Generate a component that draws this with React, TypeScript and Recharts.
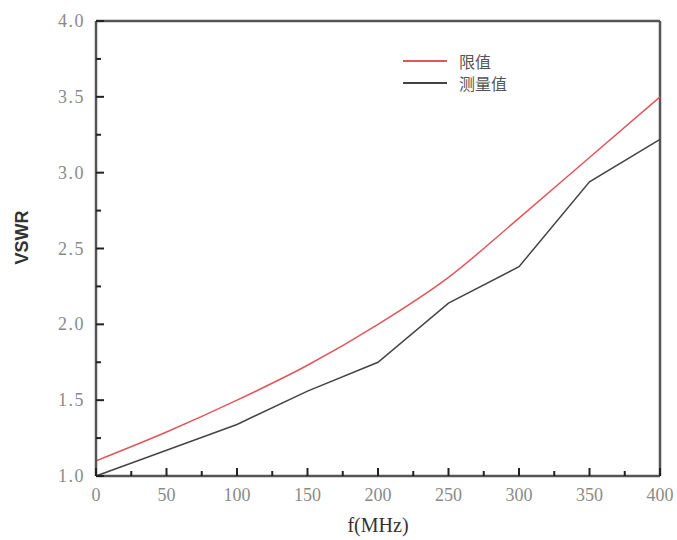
import React from "react";
import { LineChart, Line, XAxis, YAxis, ReferenceLine } from "recharts";

const freqs = [0, 50, 100, 150, 200, 250, 300, 350, 400];
const limitValues = [1.1, 1.29, 1.5, 1.73, 2.0, 2.31, 2.7, 3.1, 3.5];
const measuredValues = [1.0, 1.17, 1.34, 1.56, 1.75, 2.14, 2.38, 2.94, 3.22];
const xTicks = [0, 25, 50, 75, 100, 125, 150, 175, 200, 225, 250, 275, 300, 325, 350, 375, 400];
const xMajor = [0, 50, 100, 150, 200, 250, 300, 350, 400];
const yTicks = [1.0, 1.25, 1.5, 1.75, 2.0, 2.25, 2.5, 2.75, 3.0, 3.25, 3.5, 3.75, 4.0];
const yMajor = [1.0, 1.5, 2.0, 2.5, 3.0, 3.5, 4.0];
const seriesNames = ["限值", "测量值"];
const seriesColors = ["#e0565a", "#444444"];

const data = freqs.map((f, i) => ({ f, limit: limitValues[i], measured: measuredValues[i] }));

const AXIS = "#555555";
const TICKFONT = "'Liberation Serif', 'DejaVu Serif', serif";

const XTick = (props: any) => {
  const { x, y, payload } = props;
  const v = payload.value;
  const major = xMajor.includes(v);
  return (
    <g>
      <line x1={x} x2={x} y1={y} y2={y - (major ? 8 : 5)} stroke="#222" strokeWidth={2} />
      {major && (
        <text x={x} y={y + 25} textAnchor="middle" fontSize={18} fill="#8a8a8a" fontFamily={TICKFONT}>
          {v}
        </text>
      )}
    </g>
  );
};

const YTick = (props: any) => {
  const { x, y, payload } = props;
  const v = payload.value;
  const major = yMajor.some((m) => Math.abs(m - v) < 1e-6);
  return (
    <g>
      <line x1={x} x2={x + (major ? 8 : 5)} y1={y} y2={y} stroke="#222" strokeWidth={2} />
      {major && (
        <text x={x - 11} y={y + 6} textAnchor="end" fontSize={18} fill="#8a8a8a" fontFamily={TICKFONT} letterSpacing={1.5}>
          {v.toFixed(1)}
        </text>
      )}
    </g>
  );
};

const YLabel = (props: any) => {
  const { viewBox } = props;
  const cx = 22;
  const cy = viewBox ? viewBox.y + viewBox.height / 2 - 11 : 237;
  return (
    <text x={cx} y={cy} transform={`rotate(-90, ${cx}, ${cy})`} textAnchor="middle" dominantBaseline="central" fontSize={18} fontWeight="bold" fill="#333" fontFamily="'Liberation Sans', Arial, sans-serif">
      VSWR
    </text>
  );
};

const LegendBox = () => (
  <div style={{ position: "absolute", left: 403, top: 50, fontFamily: "'Noto Sans CJK SC', sans-serif", fontSize: 16, color: "#555" }}>
    {seriesNames.map((n, i) => (
      <div key={n} style={{ display: "flex", alignItems: "center", height: 22, overflow: "hidden" }}>
        <svg width={46} height={10} style={{ marginRight: 10 }}>
          <line x1={0} x2={44} y1={5} y2={5} stroke={seriesColors[i]} strokeWidth={2} />
        </svg>
        <span style={{ lineHeight: "20px", display: "inline-block", height: 20 }}>{n}</span>
      </div>
    ))}
  </div>
);

export default function App() {
  return (
    <div style={{ position: "absolute", left: 0, top: 0, width: 677, height: 540, background: "#fff" }}>
      <LineChart width={677} height={540} data={data} margin={{ top: 21, right: 17, left: 0, bottom: 0 }}>
        <XAxis
          dataKey="f"
          type="number"
          domain={[0, 400]}
          ticks={xTicks}
          interval={0}
          tickSize={0}
          tickMargin={0}
          tick={<XTick />}
          axisLine={{ stroke: AXIS, strokeWidth: 2.5 }}
          tickLine={false}
          height={64}
          label={{ value: "f(MHz)", position: "insideBottom", offset: 8, fontSize: 20, fill: "#333", fontFamily: TICKFONT }}
        />
        <YAxis
          type="number"
          domain={[1, 4]}
          ticks={yTicks}
          interval={0}
          tickSize={0}
          tickMargin={0}
          tick={<YTick />}
          axisLine={{ stroke: AXIS, strokeWidth: 2.5 }}
          tickLine={false}
          width={96}
          label={<YLabel />}
        />
        <ReferenceLine y={4} stroke={AXIS} strokeWidth={2.5} />
        <ReferenceLine x={400} stroke={AXIS} strokeWidth={2.5} />
        <Line type="monotone" dataKey="limit" stroke={seriesColors[0]} strokeWidth={1.5} dot={false} isAnimationActive={false} />
        <Line type="linear" dataKey="measured" stroke={seriesColors[1]} strokeWidth={1.5} dot={false} isAnimationActive={false} />
      </LineChart>
      <LegendBox />
    </div>
  );
}
